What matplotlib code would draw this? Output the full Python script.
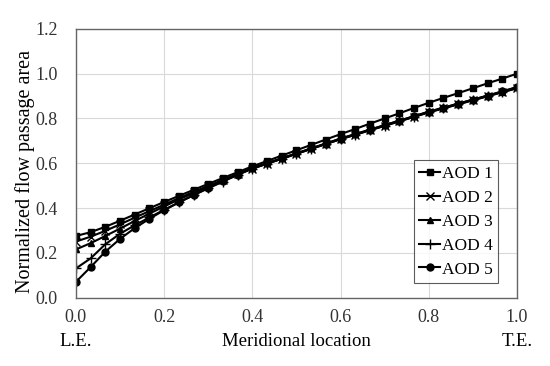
import numpy as np
import matplotlib.pyplot as plt

plt.rcParams['font.family'] = ['Liberation Serif', 'DejaVu Serif']

x = np.arange(31) / 30.0

aod1 = [0.275, 0.292, 0.316, 0.343, 0.371, 0.399, 0.427, 0.454, 0.481, 0.508, 0.534,
        0.560, 0.586, 0.610, 0.634, 0.658, 0.682, 0.706, 0.730, 0.753, 0.777, 0.800,
        0.823, 0.847, 0.870, 0.892, 0.913, 0.935, 0.957, 0.978, 1.000]
aod2 = [0.250, 0.272, 0.298, 0.327, 0.357, 0.386, 0.415, 0.444, 0.472, 0.499, 0.525,
        0.551, 0.576, 0.598, 0.620, 0.642, 0.664, 0.686, 0.708, 0.728, 0.748, 0.768,
        0.788, 0.808, 0.828, 0.846, 0.864, 0.882, 0.900, 0.918, 0.935]
aod3 = [0.215, 0.243, 0.275, 0.308, 0.342, 0.375, 0.407, 0.438, 0.467, 0.496, 0.524,
        0.551, 0.578, 0.600, 0.622, 0.644, 0.666, 0.688, 0.710, 0.730, 0.750, 0.770,
        0.790, 0.810, 0.830, 0.848, 0.866, 0.884, 0.902, 0.920, 0.940]
aod4 = [0.130, 0.175, 0.238, 0.285, 0.323, 0.358, 0.392, 0.425, 0.457, 0.488, 0.518,
        0.548, 0.576, 0.598, 0.620, 0.642, 0.664, 0.686, 0.707, 0.727, 0.747, 0.767,
        0.787, 0.807, 0.827, 0.845, 0.863, 0.881, 0.899, 0.917, 0.935]
aod5 = [0.070, 0.136, 0.205, 0.262, 0.310, 0.352, 0.390, 0.425, 0.458, 0.490, 0.520,
        0.549, 0.577, 0.600, 0.622, 0.644, 0.666, 0.688, 0.710, 0.730, 0.750, 0.770,
        0.790, 0.810, 0.830, 0.848, 0.866, 0.884, 0.902, 0.921, 0.940]

series = [aod1, aod2, aod3, aod4, aod5]
labels = ["AOD 1", "AOD 2", "AOD 3", "AOD 4", "AOD 5"]
markers = ['s', 'x', '^', '+', 'o']
msizes = [4.5, 6, 5, 7, 5]

fig = plt.figure(figsize=(5.5, 3.66), dpi=100)
ax = fig.add_axes([0.138, 0.187, 0.802, 0.734])

for y, lab, m, ms in zip(series, labels, markers, msizes):
    ax.plot(x, y, color='black', lw=1.5, marker=m, markersize=ms,
            markeredgewidth=1.0, label=lab)

ax.set_xlim(0, 1.0)
ax.set_ylim(0, 1.2)
ax.set_xticks(np.arange(0, 1.01, 0.2))
ax.set_yticks(np.arange(0, 1.21, 0.2))
ax.set_xticklabels([f"{v:.1f}" for v in np.arange(0, 1.01, 0.2)])
ax.set_yticklabels([f"{v:.1f}" for v in np.arange(0, 1.21, 0.2)])
ax.tick_params(length=0, labelsize=13, colors='#333333')
ax.tick_params(axis='x', pad=8)
ax.tick_params(axis='y', pad=13)
ax.grid(True, color='#d9d9d9', lw=0.8)
for s in ax.spines.values():
    s.set_color('#666666')
    s.set_linewidth(1.0)

ax.set_ylabel("Normalized flow passage area", fontsize=14.5)
ax.yaxis.label.set_va('center')
ax.yaxis.set_label_coords(-0.116, 0.468)
ax.set_xlabel("Meridional location", fontsize=13.5)
ax.xaxis.label.set_va('center')
ax.xaxis.set_label_coords(0.5, -0.165)
ax.text(0, -0.165, "L.E.", transform=ax.transAxes, ha='center', va='center', fontsize=13.5)
ax.text(1, -0.165, "T.E.", transform=ax.transAxes, ha='center', va='center', fontsize=13.5)

leg = ax.legend(loc='lower right', bbox_to_anchor=(0.957, 0.055), fontsize=12.5,
                frameon=True, fancybox=False, edgecolor='#333333', handlelength=1.2,
                handletextpad=0.1, borderpad=0.3, labelspacing=0.45, borderaxespad=0)
leg.get_frame().set_linewidth(0.8)

fig.savefig("out.png", dpi=100)
